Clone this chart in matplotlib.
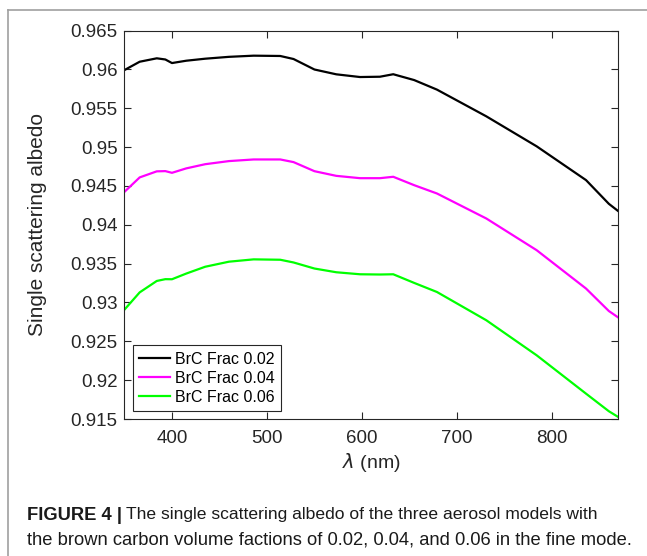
import matplotlib.pyplot as plt
from matplotlib.lines import Line2D

plt.rcParams['font.family'] = ['Liberation Sans', 'DejaVu Sans']

# wavelength grid (nm) and single scattering albedo
wavelength = [350, 366, 384, 393, 400, 415, 435, 460, 486, 514, 528, 550, 573,
              598, 619, 633, 655, 679, 731, 784, 836, 860, 870]
ssa_002 = [0.95992, 0.96099, 0.96143, 0.96128, 0.96082, 0.96112, 0.96138, 0.96162,
           0.96177, 0.96173, 0.96134, 0.95999, 0.95937, 0.95902, 0.95906, 0.95938,
           0.95863, 0.95740, 0.95396, 0.95010, 0.94575, 0.94270, 0.94175]
ssa_004 = [0.94424, 0.94610, 0.94688, 0.94691, 0.94669, 0.94726, 0.94780, 0.94820,
           0.94841, 0.94841, 0.94807, 0.94690, 0.94630, 0.94600, 0.94600, 0.94618,
           0.94510, 0.94403, 0.94081, 0.93673, 0.93179, 0.92890, 0.92806]
ssa_006 = [0.92908, 0.93130, 0.93277, 0.93300, 0.93299, 0.93372, 0.93460, 0.93525,
           0.93555, 0.93550, 0.93515, 0.93437, 0.93389, 0.93363, 0.93360, 0.93363,
           0.93252, 0.93135, 0.92771, 0.92320, 0.91826, 0.91600, 0.91525]
labels = ['BrC Frac 0.02', 'BrC Frac 0.04', 'BrC Frac 0.06']
colors = ['black', '#ff00ff', '#00ff00']

xticks = [400, 500, 600, 700, 800]
yticks = [0.915, 0.92, 0.925, 0.93, 0.935, 0.94, 0.945, 0.95, 0.955, 0.96, 0.965]

fig = plt.figure(figsize=(6.47, 5.56), dpi=100)
ax = fig.add_axes([0.1924, 0.2464, 0.7633, 0.6986])

for ys, lab, c in zip([ssa_002, ssa_004, ssa_006], labels, colors):
    ax.plot(wavelength, ys, color=c, linewidth=1.6, label=lab)

ax.set_xlim(350, 870)
ax.set_ylim(0.915, 0.965)
ax.set_xticks(xticks)
ax.set_yticks(yticks)
ax.set_yticklabels([f'{v:g}' for v in yticks])

# MATLAB-like box with inward ticks on all sides
ax.tick_params(direction='in', top=True, right=True, length=5, width=0.8,
               labelsize=13.5, colors='#262626')
ax.tick_params(axis='x', pad=8)
ax.tick_params(axis='y', pad=5)
for s in ax.spines.values():
    s.set_color('#262626')
    s.set_linewidth(0.8)

ax.set_xlabel(r'$\lambda$ (nm)', fontsize=14, color='#262626', labelpad=3)
ax.set_ylabel('Single scattering albedo', fontsize=15, color='#262626', labelpad=17)

leg = ax.legend(loc='lower left', bbox_to_anchor=(0.017, 0.02), borderaxespad=0,
                fontsize=11.5, fancybox=False, handlelength=1.95, labelspacing=0.25,
                borderpad=0.4, handletextpad=0.3, framealpha=1)
leg.get_frame().set_edgecolor('#262626')
leg.get_frame().set_linewidth(0.8)

# gray frame of the figure panel
fig.add_artist(Line2D([8 / 647, 1.0], [1 - 10 / 556, 1 - 10 / 556],
                      color='#a0a0a0', linewidth=1.2, transform=fig.transFigure))
fig.add_artist(Line2D([8 / 647, 8 / 647], [0.0, 1 - 10 / 556],
                      color='#a0a0a0', linewidth=1.2, transform=fig.transFigure))

# caption, bold prefix then regular text
fig.canvas.draw()
renderer = fig.canvas.get_renderer()
cap_x = 27 / 647
bold = fig.text(cap_x, 1 - 515 / 556, 'FIGURE 4 |', fontsize=13.2, fontweight='bold',
                va='center', ha='left', color='#1a1a1a')
bb = bold.get_window_extent(renderer=renderer)
fig.text(bb.x1 / fig.bbox.width + 4 / 647, 1 - 515 / 556,
         'The single scattering albedo of the three aerosol models with',
         fontsize=12.6, va='center', ha='left', color='#1a1a1a')
fig.text(cap_x, 1 - 540 / 556,
         'the brown carbon volume factions of 0.02, 0.04, and 0.06 in the fine mode.',
         fontsize=13.2, va='center', ha='left', color='#1a1a1a')

fig.savefig('out.png', dpi=100)
